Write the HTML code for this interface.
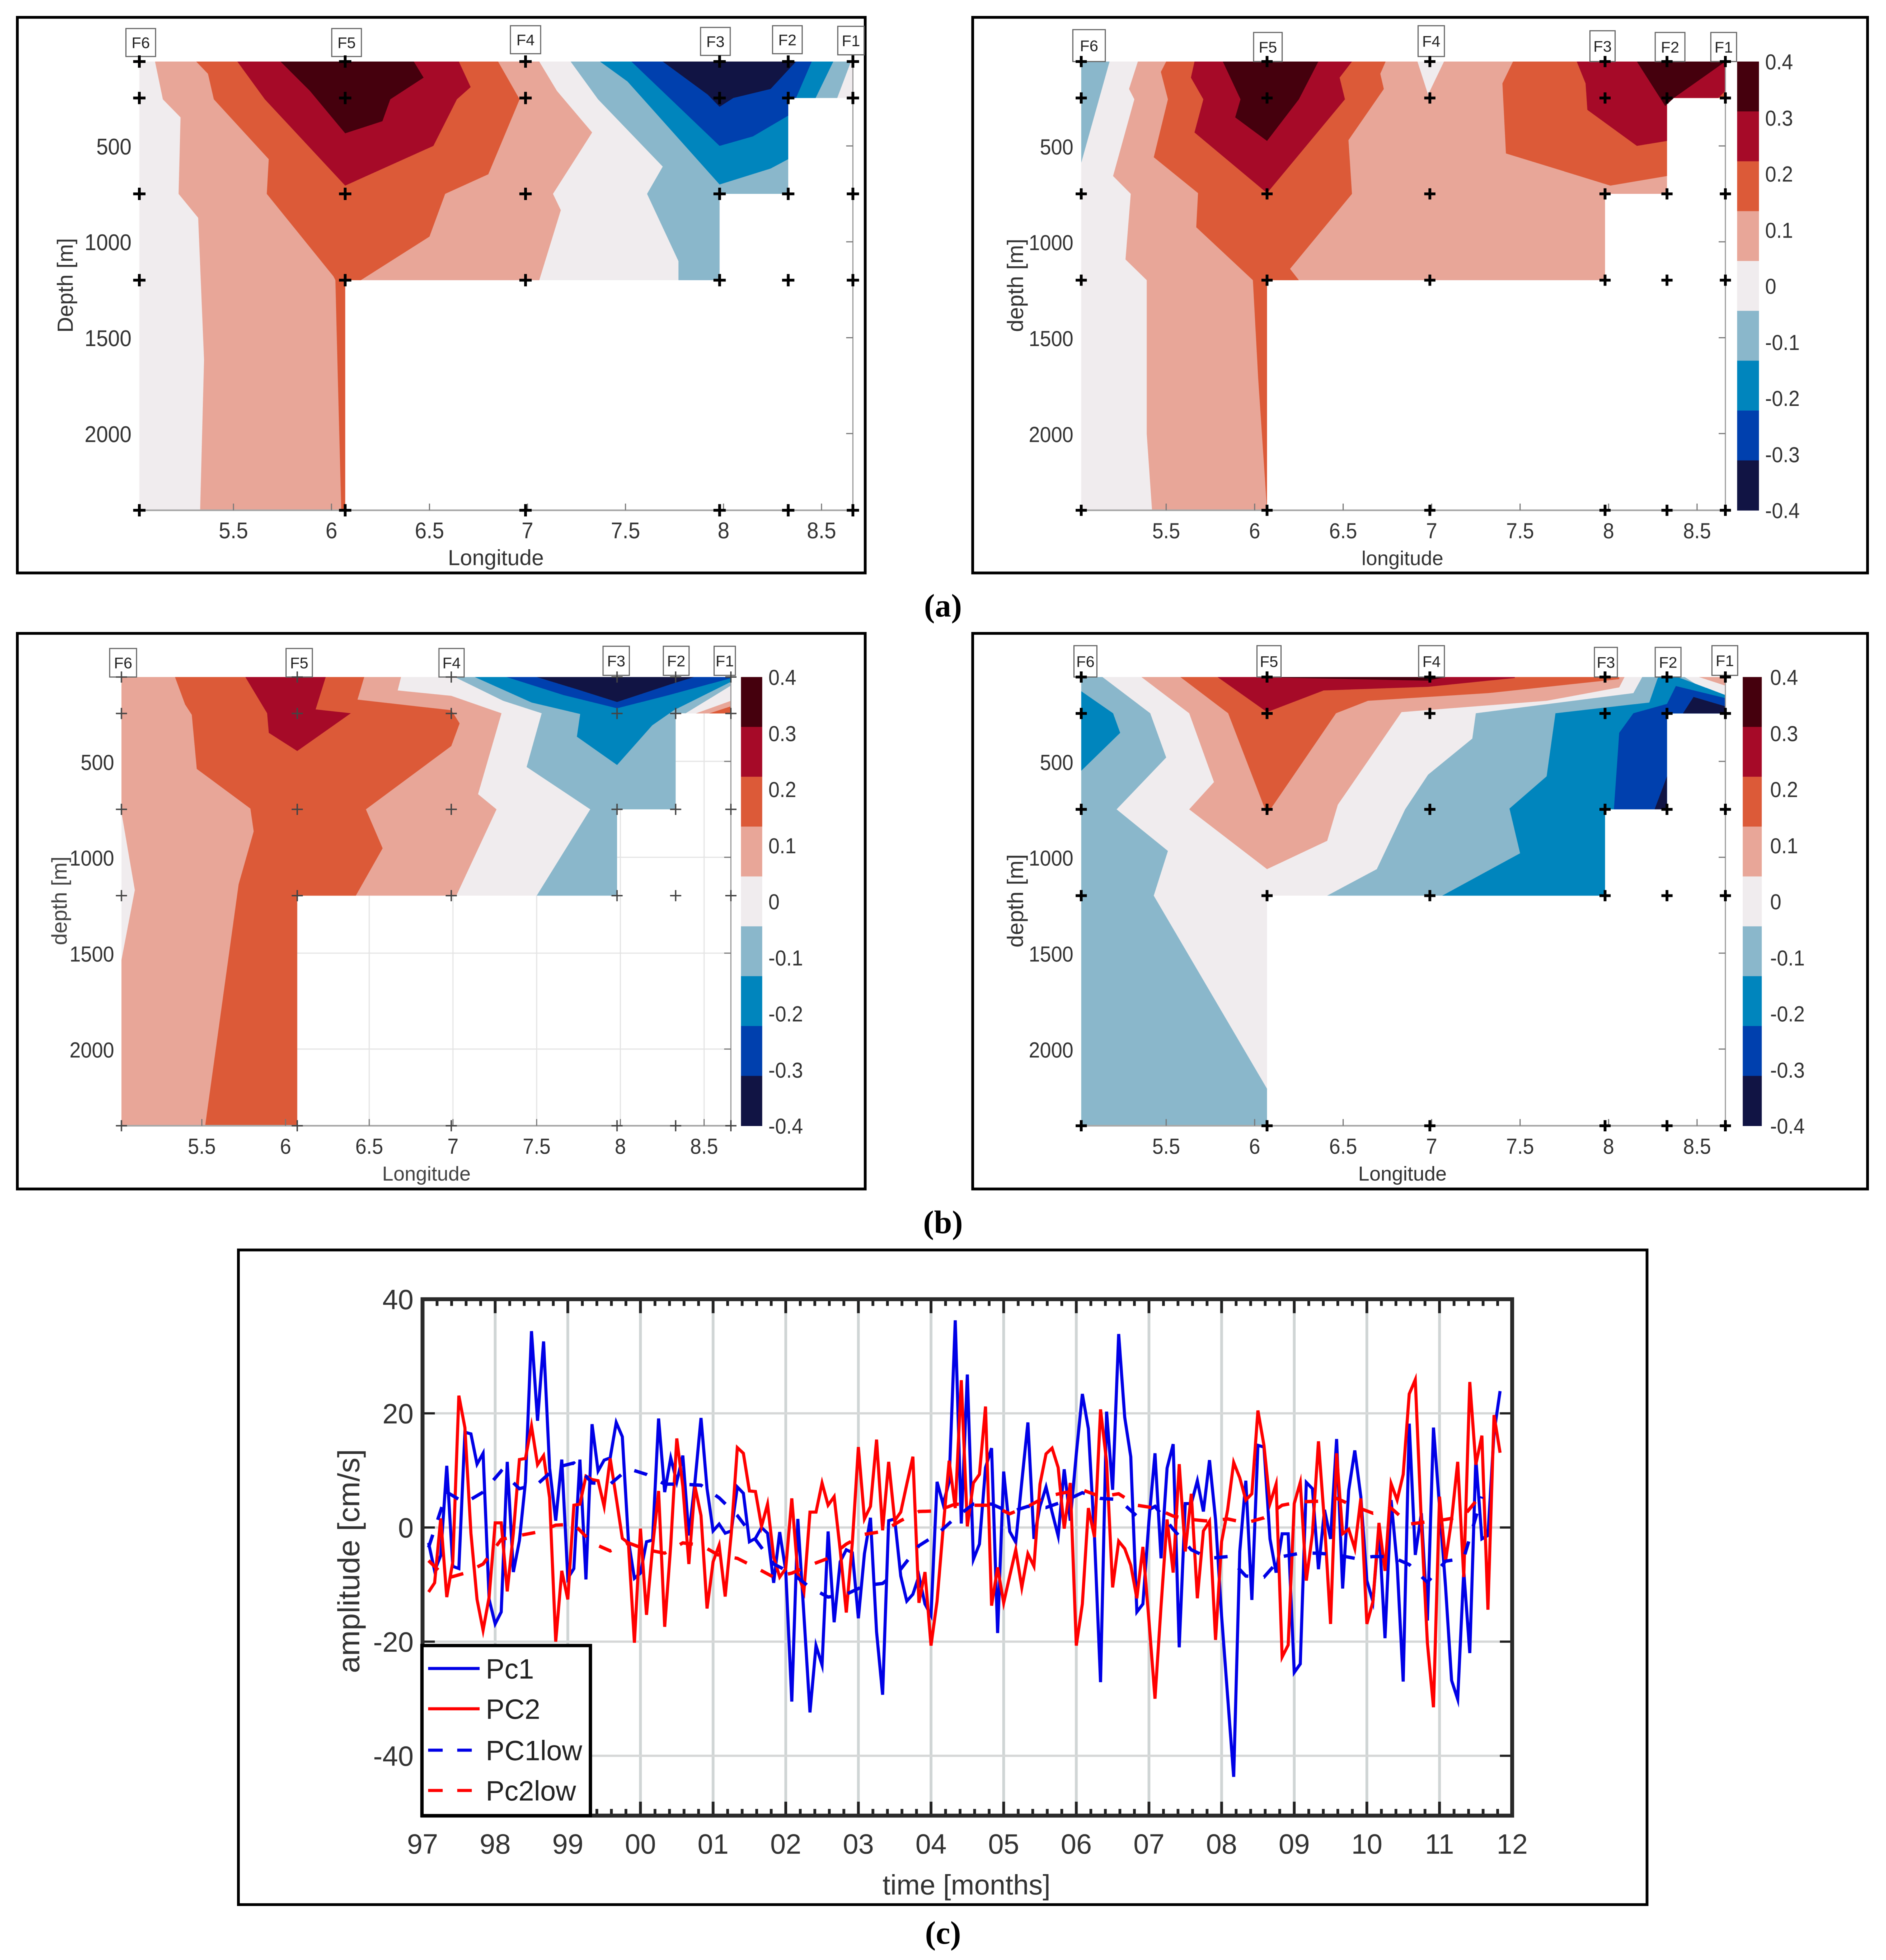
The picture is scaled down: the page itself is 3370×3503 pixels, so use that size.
<!DOCTYPE html>
<html lang="en">
<head>
<meta charset="utf-8">
<title>Contour sections and principal component time series</title>
<style>
html,body{margin:0;padding:0;background:#fff;}
svg{display:block;font-family:"Liberation Sans",sans-serif;filter:blur(0.8px);}
</style>
</head>
<body>
<svg id="figure" xmlns="http://www.w3.org/2000/svg" width="3370" height="3503" viewBox="0 0 3370 3503">
  <rect x="0" y="0" width="3370" height="3503" fill="#fff"/>
  <g id="panelALeft">
    <rect x="31" y="31" width="1515" height="993" fill="#fff" stroke="#000" stroke-width="5"/>
    <text x="886" y="1010" font-size="39" text-anchor="middle" fill="#333">Longitude</text>
    <text x="130" y="510" font-size="39" text-anchor="middle" fill="#333" transform="rotate(-90 130 510)">Depth [m]</text>
  </g>
  <g id="panelARight">
    <rect x="1738" y="31" width="1599" height="993" fill="#fff" stroke="#000" stroke-width="5"/>
    <text x="2506" y="1010" font-size="36" text-anchor="middle" fill="#333">longitude</text>
    <text x="1828" y="510" font-size="40" text-anchor="middle" fill="#333" transform="rotate(-90 1828 510)">depth [m]</text>
  </g>
  <g id="panelBLeft">
    <rect x="31" y="1132" width="1515" height="993" fill="#fff" stroke="#000" stroke-width="5"/>
    <text x="762" y="2110" font-size="36" text-anchor="middle" fill="#444">Longitude</text>
    <text x="119" y="1610" font-size="38" text-anchor="middle" fill="#444" transform="rotate(-90 119 1610)">depth [m]</text>
  </g>
  <g id="panelBRight">
    <rect x="1738" y="1132" width="1599" height="993" fill="#fff" stroke="#000" stroke-width="5"/>
    <text x="2506" y="2110" font-size="36" text-anchor="middle" fill="#333">Longitude</text>
    <text x="1828" y="1610" font-size="40" text-anchor="middle" fill="#333" transform="rotate(-90 1828 1610)">depth [m]</text>
  </g>
  <text x="1685" y="1102" font-family="'Liberation Serif',serif" font-weight="bold" font-size="58" text-anchor="middle" fill="#000">(a)</text>
  <text x="1685" y="2204" font-family="'Liberation Serif',serif" font-weight="bold" font-size="58" text-anchor="middle" fill="#000">(b)</text>
  <text x="1685" y="3474" font-family="'Liberation Serif',serif" font-weight="bold" font-size="58" text-anchor="middle" fill="#000">(c)</text>
  <g id="panelC">
    <rect x="426" y="2234" width="2517" height="1179" fill="#fff" stroke="#000" stroke-width="5" transform="translate(0 0)" style="height:1170px"/>
    <text x="1727" y="3386" font-size="50" text-anchor="middle" fill="#333">time [months]</text>
    <text x="642" y="2790" font-size="55" text-anchor="middle" fill="#333" transform="rotate(-90 642 2790)">amplitude [cm/s]</text>
  </g>
</svg>
<script>
/* ---------- contour section data: [longitude, depth] ---------- */
const stationNames = ['F6','F5','F4','F3','F2','F1'];
const stationLons = [5.02,6.07,6.99,7.98,8.33,8.66];
const sampleDepths = [60,250,750,1200,2400];
const lonTicks = [5.5,6,6.5,7,7.5,8,8.5];
const lonTickLabels = ['5.5','6','6.5','7','7.5','8','8.5'];
const depthTicks = [500,1000,1500,2000];
const depthTickLabels = ['500','1000','1500','2000'];
const colorbarLevels = [0.4,0.3,0.2,0.1,0,-0.1,-0.2,-0.3,-0.4];
const colorbarLabels = ['0.4','0.3','0.2','0.1','0','-0.1','-0.2','-0.3','-0.4'];
const sectionOutline = [[5.02,60],[8.66,60],[8.66,250],[8.33,250],[8.33,750],[7.98,750],[7.98,1200],[6.07,1200],[6.07,2400],[5.02,2400]];

const aLeftPos1 = [[5.10,60],[5.14,257],[5.23,351],[5.22,750],[5.32,875],[5.35,1615],[5.33,2400],[6.07,2400],[6.07,1200],[7.06,1200],[7.17,835],[7.13,750],[7.33,430],[7.15,213],[7.06,60]];
const aLeftPos2 = [[5.31,60],[5.37,124],[5.40,257],[5.68,569],[5.67,750],[6.01,1180],[6.02,1200],[6.03,1615],[6.05,2400],[6.07,2400],[6.07,1200],[6.15,1200],[6.50,973],[6.58,750],[6.80,648],[6.96,257],[6.85,60]];
const aLeftPos3 = [[5.52,60],[5.66,257],[6.07,707],[6.52,500],[6.64,257],[6.71,193],[6.65,60]];
const aLeftPos4 = [[5.74,60],[5.89,213],[6.07,434],[6.26,371],[6.30,257],[6.47,144],[6.42,60]];
const aLeftNeg1 = [[7.22,60],[7.36,257],[7.69,608],[7.61,750],[7.77,1101],[7.77,1200],[7.98,1200],[7.98,750],[8.33,750],[8.33,250],[8.58,250],[8.65,60]];
const aLeftNeg2 = [[7.37,60],[7.51,164],[7.98,701],[8.24,618],[8.33,569],[8.33,250],[8.47,250],[8.56,60]];
const aLeftNeg3 = [[7.53,60],[7.98,500],[8.15,450],[8.33,342],[8.33,250],[8.37,250],[8.45,60]];
const aLeftNeg4 = [[7.69,60],[7.92,233],[7.98,296],[8.05,250],[8.24,203],[8.37,60]];

const aRightNeg1 = [[5.02,60],[5.18,60],[5.02,588]];
const aRightPos1 = [[5.34,60],[5.29,203],[5.32,257],[5.20,657],[5.30,750],[5.27,1092],[5.39,1200],[5.39,2000],[5.42,2400],[6.07,2400],[6.07,1200],[7.98,1200],[7.98,750],[8.33,750],[8.33,250],[8.66,250],[8.66,60]];
const aRightZero = [[6.92,60],[6.98,233],[7.07,60]];
const aRightPos2a = [[5.50,60],[5.47,114],[5.51,257],[5.43,559],[5.68,746],[5.67,924],[5.99,1200],[6.02,1713],[6.07,2400],[6.07,1200],[6.25,1200],[6.20,1141],[6.55,750],[6.53,470],[6.73,203],[6.71,124],[6.74,60]];
const aRightPos2b = [[7.46,60],[7.40,174],[7.42,539],[8.01,707],[8.33,657],[8.33,250],[8.66,250],[8.66,60]];
const aRightPos3a = [[5.66,60],[5.64,144],[5.71,257],[5.66,430],[6.07,746],[6.51,257],[6.48,144],[6.55,60]];
const aRightPos3b = [[7.82,60],[7.87,174],[7.88,312],[8.16,500],[8.33,474],[8.33,250],[8.62,250],[8.66,213],[8.66,60]];
const aRightPos4a = [[5.82,60],[5.92,257],[5.89,351],[6.07,474],[6.25,257],[6.36,60]];
const aRightPos4b = [[8.16,60],[8.32,292],[8.37,249],[8.66,60]];

const bLeftPos1 = [[5.02,60],[6.69,60],[6.67,130],[6.99,158],[7.29,249],[7.15,671],[7.26,750],[7.02,1200],[6.07,1200],[6.07,2400],[5.02,2400]];
const bLeftZero = [[5.02,766],[5.10,1171],[5.02,1536]];
const bLeftPos2 = [[5.34,60],[5.40,203],[5.44,257],[5.47,539],[5.79,746],[5.81,865],[5.72,1141],[5.52,2400],[6.07,2400],[6.07,1200],[6.42,1200],[6.58,953],[6.48,750],[6.99,420],[7.04,302],[6.99,233],[6.43,178],[6.47,60]];
const bLeftPos3 = [[5.76,60],[5.89,249],[5.90,351],[6.07,446],[6.39,249],[6.18,229],[6.24,60]];
const bLeftNeg1 = [[7.01,60],[7.30,184],[7.53,249],[7.44,529],[7.82,750],[7.50,1200],[7.98,1200],[7.98,750],[8.33,750],[8.33,250],[8.39,249],[8.66,105],[8.66,60]];
const bLeftNeg2 = [[7.13,60],[7.47,193],[7.76,253],[7.74,371],[7.98,519],[8.19,312],[8.32,233],[8.66,85],[8.66,60]];
const bLeftNeg3 = [[7.32,60],[7.66,154],[7.98,223],[8.29,154],[8.66,66],[8.66,60]];
const bLeftNeg4 = [[7.50,60],[7.74,124],[7.98,190],[8.31,95],[8.44,60]];
const bLeftCornerPos1 = [[8.45,250],[8.66,184],[8.66,250]];
const bLeftCornerPos2 = [[8.53,250],[8.66,213],[8.66,250]];

const bRightNeg1a = [[5.02,60],[5.14,60],[5.41,249],[5.50,480],[5.22,750],[5.51,967],[5.43,1200],[6.07,2207],[6.07,2400],[5.02,2400]];
const bRightNeg2a = [[5.02,134],[5.20,249],[5.24,351],[5.02,549]];
const bRightPos1 = [[5.36,60],[5.63,249],[5.77,608],[5.63,750],[6.07,1062],[6.41,914],[6.47,726],[6.83,243],[7.65,184],[8.06,114],[8.09,60]];
const bRightPos2 = [[5.58,60],[5.85,249],[6.07,776],[6.46,249],[6.64,184],[7.32,144],[8.06,71],[8.06,60]];
const bRightPos3 = [[5.79,60],[6.07,243],[6.39,130],[6.98,111],[7.47,65],[7.47,60]];
const bRightPos4 = [[5.97,60],[6.98,79],[7.08,60]];
const bRightNeg1b = [[8.19,60],[8.14,144],[7.25,249],[7.23,381],[6.98,569],[6.85,750],[6.69,1062],[6.41,1200],[7.98,1200],[7.98,750],[8.33,750],[8.33,250],[8.66,250],[8.66,196],[8.43,60]];
const bRightNeg2b = [[8.28,60],[8.23,193],[7.70,249],[7.65,578],[7.44,746],[7.50,979],[7.06,1200],[7.98,1200],[7.98,750],[8.33,750],[8.33,250],[8.66,250],[8.66,154],[8.39,60]];
const bRightNeg3 = [[8.38,107],[8.33,200],[8.14,249],[8.06,351],[8.03,750],[8.33,750],[8.33,250],[8.66,250],[8.66,170]];
const bRightNeg4a = [[8.42,250],[8.48,164],[8.66,213],[8.66,250]];
const bRightNeg4b = [[8.26,750],[8.33,578],[8.33,750]];
const bRightCornerPos1 = [[8.51,60],[8.66,105],[8.66,60]];

/* ---------- time series data (cm/s) ---------- */
const yearLabels = ['97','98','99','00','01','02','03','04','05','06','07','08','09','10','11','12'];
const ampTicks = [40,20,0,-20,-40];
const ampTickLabels = ['40','20','0','-20','-40'];
const pc1Values = [-2.7,-7.6,-4.9,10.8,-6.8,-7.2,16.7,16.4,11.1,13.0,-12.6,-16.9,-14.8,11.5,-7.8,-2.3,8.0,34.4,18.7,32.6,10.4,1.2,11.9,-8.9,-7.2,11.9,-9.1,18.1,9.9,11.8,12.2,18.4,15.9,-2.2,-8.9,-8.0,-2.5,-2.2,19.1,6.2,12.2,8.0,12.6,-1.4,8.0,19.2,6.8,-0.6,0.6,-1.0,-0.6,7.1,6.0,-2.5,-1.9,0,-1.0,-9.7,-0.8,-7.6,
-30.5,1.5,-15.4,-32.4,-20.7,-24.1,-0.7,-16.6,-6.0,-3.9,-4.4,-15.9,-4.6,1.7,-18.3,-29.3,1.2,1.5,-8.5,-12.9,-11.7,-8.5,-13.4,-15.4,8.0,4.1,8.0,36.3,0.7,26.8,-5.6,-2.9,10.5,13.9,-18.5,9.8,-0.7,-2.6,8.0,18.4,-2.0,3.7,7.1,2.7,-1.5,10.2,1.2,12.9,23.4,17.3,-1.7,-27.1,20.3,6.6,33.9,19.3,12.4,-14.8,-13.4,1.2,
13.0,-5.4,10.4,14.6,-21.0,4.2,4.2,8.2,2.8,11.8,1.4,-15.5,-29.6,-43.7,-4.2,8.2,-12.7,14.4,14.1,-2.0,-7.9,-1.1,-1.1,-25.4,-23.9,7.9,6.8,-7.3,3.1,-2.0,15.5,-10.7,6.5,13.5,5.4,-9.3,-13.0,0,-19.4,4.8,-6.5,-27.0,18.2,-4.8,2.5,-16.3,17.5,3.7,-10.4,-26.8,-30.1,-7.6,-22.0,12.1,-2.0,-1.4,16.6,23.9];
const pc2Values = [-11.3,-9.7,1.6,-12.2,-6.0,23.1,17.5,-1.0,-12.6,-18.0,-12.2,0.8,0.8,-11.2,-1.0,11.9,12.1,17.8,11.0,12.6,5.2,-20.0,-7.6,-12.6,3.9,4.1,9.0,8.4,8.2,3.7,12.1,5.2,-1.9,-2.7,-20.2,-0.2,-15.3,-3.5,6.4,-17.4,-3.1,15.6,7.2,-6.4,7.2,2.1,-14.2,-6.0,-3.1,-12.1,-1.0,14.0,13.0,6.4,6.3,0.2,4.1,-5.2,-8.7,-7.2,
5.1,-8.0,-11.2,2.7,2.7,7.8,3.9,5.4,-3.9,-14.9,-2.7,14.1,1.5,3.7,15.4,-0.5,11.5,1.2,2.7,7.6,12.4,-13.2,-7.8,-20.7,-12.9,-0.2,11.7,3.4,25.8,0.2,7.8,9.3,21.2,-13.7,-7.0,-13.2,-8.5,-3.9,-10.5,-4.6,-6.8,7.6,12.9,13.9,10.5,-0.2,7.8,-20.7,-13.4,3.4,-1.7,20.7,11.5,-10.5,-2.4,-3.7,-6.6,-12.4,-3.4,-16.3,
-30.0,-13.8,1.4,-7.9,11.1,-4.2,5.9,-12.4,-0.6,1.1,-19.7,-2.5,3.1,11.4,8.7,4.8,5.9,20.5,14.4,4.2,7.6,-22.7,-20.6,4.2,7.9,-9.3,-1.1,15.1,0.8,-16.9,13.0,-1.1,-0.3,-3.7,5.1,-16.9,-13.0,0.8,-7.6,7.7,4.8,9.3,23.4,25.9,0.8,-20.3,-31.5,5.4,-5.9,1.4,11.5,-8.7,25.5,11.0,16.1,-14.4,19.7,13.1];
const pc1LowValues = [-3.5,6.2,4.3,6.2,9.9,6.8,7.6,10.5,11.3,7.8,7.6,10.3,9.3,7.6,7.6,7.4,5.2,2.1,-2.1,-6.4,
-8.0,-10.5,-12.2,-11.7,-10.2,-9.8,-7.3,-3.2,-1.2,1.7,4.1,4.1,2.7,3.7,3.5,4.6,6.1,5.1,4.9,2.0,
3.7,-0.3,-3.9,-5.4,-5.1,-8.5,-8.7,-5.1,-4.5,-4.5,-4.8,-5.4,-5.1,-5.1,-6.5,-9.6,-5.9,-5.4,5.4];
const pc2LowValues = [-5.8,-8.9,-8.0,-6.4,-2.1,-1.4,-0.8,0.4,0.6,-2.7,-4.1,-2.7,-3.9,-4.5,-2.7,-3.1,-4.9,-5.4,-7.0,-8.7,
-8.0,-6.6,-5.4,-2.9,-1.2,-0.7,1.2,2.8,2.9,4.1,3.9,3.9,2.4,3.7,5.4,6.1,6.6,5.4,5.9,3.9,
3.4,2.0,1.4,1.1,1.5,0.8,1.7,3.9,4.5,4.6,5.1,3.7,2.5,3.4,0.6,1.0,1.4,2.0,5.9];
const legendLabels = ['Pc1','PC2','PC1low','Pc2low'];

/* ---------- styles ---------- */
const SVG_NS = 'http://www.w3.org/2000/svg';
function bandColor(level){
  if(level>=0.35) return '#45000d';
  if(level>=0.25) return '#a60a28';
  if(level>=0.15) return '#dc5a38';
  if(level>=0.05) return '#e8a698';
  if(level>=-0.05) return '#f0ecee';
  if(level>=-0.15) return '#8ab7cb';
  if(level>=-0.25) return '#0085bd';
  if(level>=-0.35) return '#0040ae';
  return '#111444';
}
function mk(parent,tag,attrs,text){
  const el = document.createElementNS(SVG_NS,tag);
  for(const k in attrs){ el.setAttribute(k,attrs[k]); }
  if(text!==undefined){ el.textContent = text; }
  parent.appendChild(el);
  return el;
}
/* tick lettering in the source is narrow and tall */
function condense(el,factor){
  const w = el.getComputedTextLength();
  if(w>0){
    el.setAttribute('textLength',(w*factor).toFixed(1));
    el.setAttribute('lengthAdjust','spacingAndGlyphs');
  }
}

/* ---------- contour panels ---------- */
function drawSection(cfg){
  const root = document.getElementById(cfg.id);
  const lonMin = stationLons[0], lonMax = stationLons[5];
  const depthMin = sampleDepths[0], depthMax = sampleDepths[4];
  const xOf = lon => cfg.left + (lon-lonMin)*(cfg.right-cfg.left)/(lonMax-lonMin);
  const yOf = d => cfg.top + (d-depthMin)*(cfg.bottom-cfg.top)/(depthMax-depthMin);
  const toPoints = poly => poly.map(p => xOf(p[0]).toFixed(1)+','+yOf(p[1]).toFixed(1)).join(' ');

  if(cfg.grid){
    lonTicks.forEach(function(v){
      const g = mk(root,'line',{x1:xOf(v),x2:xOf(v),y1:cfg.top,y2:cfg.bottom,stroke:'#e4e4e4','stroke-width':2});
      
      
    });
    depthTicks.forEach(function(v){
      const g = mk(root,'line',{x1:cfg.left,x2:cfg.right,y1:yOf(v),y2:yOf(v),stroke:'#e4e4e4','stroke-width':2});
      
      
    });
  }

  const base = mk(root,'polygon',{points:toPoints(sectionOutline),fill:bandColor(0)});
  
  

  cfg.bands.forEach(function(b){
    const band = mk(root,'polygon',{points:toPoints(b[1]),fill:bandColor(b[0])});
    
    
  });

  const axisX = mk(root,'line',{x1:cfg.left,x2:cfg.right,y1:cfg.bottom,y2:cfg.bottom,stroke:'#a8a8a8','stroke-width':3});
  
  
  const axisY = mk(root,'line',{x1:cfg.right,x2:cfg.right,y1:cfg.top,y2:cfg.bottom,stroke:'#999','stroke-width':2});
  
  

  lonTicks.forEach(function(v,i){
    const t = mk(root,'line',{x1:xOf(v),x2:xOf(v),y1:cfg.bottom,y2:cfg.bottom-12,stroke:'#777','stroke-width':2});
    
    
    const l = mk(root,'text',{x:xOf(v),y:cfg.bottom+50,'font-size':cfg.font,'text-anchor':'middle',fill:'#333'},lonTickLabels[i]);
    
    
    condense(l,0.92);
  });
  depthTicks.forEach(function(v,i){
    const t = mk(root,'line',{x1:cfg.right,x2:cfg.right-12,y1:yOf(v),y2:yOf(v),stroke:'#777','stroke-width':2});
    
    
    const l = mk(root,'text',{x:cfg.labelRight,y:yOf(v)+15,'font-size':cfg.font,'text-anchor':'end',fill:'#333'},depthTickLabels[i]);
    
    
    condense(l,0.92);
  });

  stationLons.forEach(function(lon,i){
    const spec = cfg.boxes[i];
    const box = mk(root,'rect',{x:xOf(lon)+spec[0],y:spec[2],width:spec[1],height:spec[3]-spec[2],fill:'#fff',stroke:'#666','stroke-width':2});
    
    
    const txt = mk(root,'text',{x:xOf(lon)+spec[0]+spec[1]/2,y:spec[2]+(spec[3]-spec[2])/2+10,'font-size':28,'text-anchor':'middle',fill:'#222'},stationNames[i]);
    
    
  });

  stationLons.forEach(function(lon){
    sampleDepths.forEach(function(d){
      const m = mk(root,'path',{d:'M'+(xOf(lon)-cfg.mark)+' '+yOf(d)+'H'+(xOf(lon)+cfg.mark)+'M'+xOf(lon)+' '+(yOf(d)-cfg.mark)+'V'+(yOf(d)+cfg.mark),stroke:cfg.markColor,'stroke-width':cfg.markWidth,fill:'none'});
      
      
    });
  });

  if(cfg.bar){
    const n = colorbarLevels.length;
    const step = (cfg.bottom-cfg.top)/n;
    colorbarLevels.forEach(function(level,i){
      const r = mk(root,'rect',{x:cfg.bar[0],y:cfg.top+i*step,width:cfg.bar[1]-cfg.bar[0],height:step+0.5,fill:bandColor(level)});
      
      
      const y = cfg.top + (0.4-level)*(cfg.bottom-cfg.top)/0.8;
      const l = mk(root,'text',{x:cfg.bar[2],y:y+14,'font-size':cfg.font,fill:'#333'},colorbarLabels[i]);
      
      
      condense(l,0.92);
    });
  }
}

drawSection({id:'panelALeft',left:249,right:1524,top:110,bottom:912,labelRight:235,font:41,mark:11,markWidth:5,markColor:'#000',
  boxes:[[-24,53,51,101],[-24,53,51,101],[-27,54,46,96],[-34,53,49,99],[-28,53,46,96],[-27,47,47,98]],
  bands:[[0.1,aLeftPos1],[0.2,aLeftPos2],[0.3,aLeftPos3],[0.4,aLeftPos4],[-0.1,aLeftNeg1],[-0.2,aLeftNeg2],[-0.3,aLeftNeg3],[-0.4,aLeftNeg4]]});

drawSection({id:'panelARight',left:1932,right:3083,top:110,bottom:912,labelRight:1918,font:39,mark:10,markWidth:5,markColor:'#000',bar:[3104,3143,3154],
  boxes:[[-15,58,53,110],[-24,51,58,110],[-21,47,46,101],[-27,45,55,110],[-21,53,58,110],[-26,46,58,110]],
  bands:[[-0.1,aRightNeg1],[0.1,aRightPos1],[0,aRightZero],[0.2,aRightPos2a],[0.2,aRightPos2b],[0.3,aRightPos3a],[0.3,aRightPos3b],[0.4,aRightPos4a],[0.4,aRightPos4b]]});

drawSection({id:'panelBLeft',left:217,right:1306,top:1210,bottom:2012,labelRight:204,font:39,mark:10,markWidth:2.5,markColor:'#444',grid:true,bar:[1324,1362,1373],
  boxes:[[-21,48,1159,1210],[-20,47,1159,1210],[-22,45,1159,1210],[-25,47,1155,1207],[-22,46,1155,1207],[-30,38,1155,1207]],
  bands:[[0.1,bLeftPos1],[0,bLeftZero],[0.2,bLeftPos2],[0.3,bLeftPos3],[-0.1,bLeftNeg1],[-0.2,bLeftNeg2],[-0.3,bLeftNeg3],[-0.4,bLeftNeg4],[0.1,bLeftCornerPos1],[0.2,bLeftCornerPos2]]});

drawSection({id:'panelBRight',left:1932,right:3083,top:1210,bottom:2012,labelRight:1918,font:39,mark:10,markWidth:5,markColor:'#000',bar:[3114,3148,3163],
  boxes:[[-13,41,1154,1210],[-18,43,1154,1210],[-20,46,1154,1210],[-19,41,1157,1210],[-21,46,1157,1210],[-24,46,1154,1207]],
  bands:[[-0.1,bRightNeg1a],[-0.2,bRightNeg2a],[0.1,bRightPos1],[0.2,bRightPos2],[0.3,bRightPos3],[0.4,bRightPos4],[-0.1,bRightNeg1b],[-0.2,bRightNeg2b],[-0.3,bRightNeg3],[-0.4,bRightNeg4a],[-0.4,bRightNeg4b],[0.1,bRightCornerPos1]]});

/* ---------- time-series panel ---------- */
(function(){
  const root = document.getElementById('panelC');
  const L = 755, R = 2702, T = 2322, B = 3245;
  const zeroY = 2730, unitPx = 10.2;
  const xOf = t => L + t*(R-L)/15;
  const yOf = v => zeroY - v*unitPx;

  yearLabels.forEach(function(lab,i){
    if(i>0 && i<15){
      const g = mk(root,'line',{x1:xOf(i),x2:xOf(i),y1:T,y2:B,stroke:'#d0d5d5','stroke-width':5});
      
      
    }
  });
  ampTicks.forEach(function(v){
    if(v===40) return;
    const g = mk(root,'line',{x1:L,x2:R,y1:yOf(v),y2:yOf(v),stroke:'#d6d8d8','stroke-width':4});
    
    
  });

  function series(values,stepMonths,color,dash,name){
    const pts = values.map(function(v,i){
      return xOf((1+i*stepMonths)/12).toFixed(1)+','+yOf(v).toFixed(1);
    }).join(' ');
    const attrs = {points:pts,fill:'none',stroke:color,'stroke-width':dash?6:5.5,'stroke-linejoin':'miter','stroke-miterlimit':6};
    if(dash){ attrs['stroke-dasharray'] = dash; }
    const line = mk(root,'polyline',attrs);
    
    
  }
  series(pc1Values,1,'#0000e6',null,'series-pc1');
  series(pc2Values,1,'#ff0000',null,'series-pc2');
  series(pc1LowValues,3,'#0000e6','24 28','series-pc1low');
  series(pc2LowValues,3,'#ff0000','24 28','series-pc2low');

  for(let m=0;m<=75;m++){
    const t = m/5;
    const major = m%5===0;
    const len = major?25:12;
    if(m===0||m===75) continue;
    const a = mk(root,'line',{x1:xOf(t),x2:xOf(t),y1:T,y2:T+len,stroke:'#222','stroke-width':5});
    
    
    const b = mk(root,'line',{x1:xOf(t),x2:xOf(t),y1:B,y2:B-len,stroke:'#222','stroke-width':5});
    
    
  }
  ampTicks.forEach(function(v,i){
    const a = mk(root,'line',{x1:L,x2:L+22,y1:yOf(v),y2:yOf(v),stroke:'#222','stroke-width':4});
    
    
    const b = mk(root,'line',{x1:R,x2:R-22,y1:yOf(v),y2:yOf(v),stroke:'#222','stroke-width':4});
    
    
    const l = mk(root,'text',{x:739,y:yOf(v)+18,'font-size':50,'text-anchor':'end',fill:'#333'},ampTickLabels[i]);
    
    
  });
  yearLabels.forEach(function(lab,i){
    const l = mk(root,'text',{x:xOf(i),y:3313,'font-size':50,'text-anchor':'middle',fill:'#333'},lab);
    
    
  });

  const box = mk(root,'rect',{x:L,y:T,width:R-L,height:B-T,fill:'none',stroke:'#2a2a2a','stroke-width':7});
  
  

  const legend = mk(root,'rect',{x:754,y:2941,width:301,height:304,fill:'#fff',stroke:'#000','stroke-width':6});
  
  
  const legendColors = ['#0000e6','#ff0000','#0000e6','#ff0000'];
  const legendRowY = [2982,3054,3128,3200];
  legendLabels.forEach(function(lab,i){
    const attrs = {x1:765,x2:857,y1:legendRowY[i],y2:legendRowY[i],stroke:legendColors[i],'stroke-width':5.5};
    if(i>=2){ attrs['stroke-dasharray'] = '26 26'; }
    const s = mk(root,'line',attrs);
    
    
    const t = mk(root,'text',{x:868,y:legendRowY[i]+18,'font-size':50,fill:'#222'},lab);
    
    
  });
})();
</script>
</body>
</html>
